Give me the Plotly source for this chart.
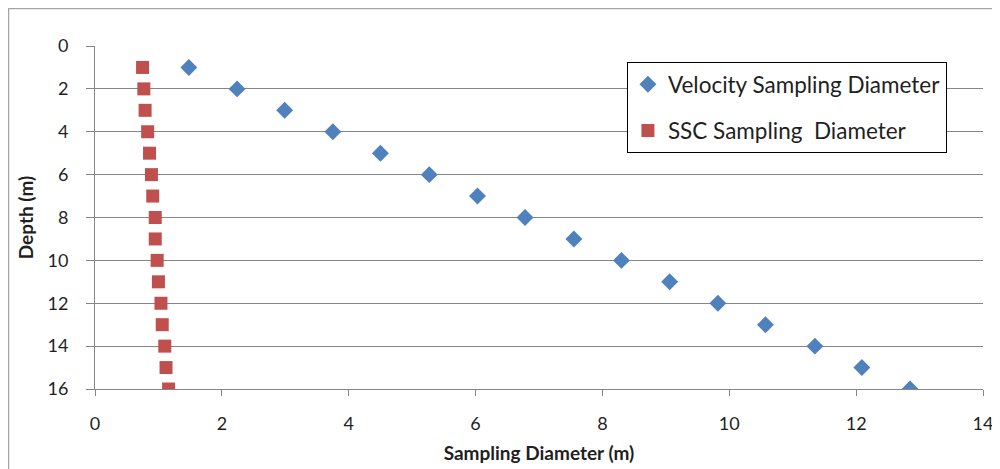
import plotly.graph_objects as go

# depth of each sample (m)
depth = [1, 2, 3, 4, 5, 6, 7, 8, 9, 10, 11, 12, 13, 14, 15, 16]

# sampling diameters (m)
velocity_diam = [1.48, 2.24, 2.99, 3.75, 4.50, 5.27, 6.03, 6.78,
                 7.55, 8.30, 9.06, 9.82, 10.57, 11.35, 12.09, 12.85]
ssc_diam = [0.75, 0.77, 0.79, 0.83, 0.86, 0.89, 0.91, 0.95,
            0.95, 0.98, 1.00, 1.04, 1.06, 1.10, 1.12, 1.16]

x_ticks = [0, 2, 4, 6, 8, 10, 12, 14]
y_ticks = [0, 2, 4, 6, 8, 10, 12, 14, 16]

font = "Lato, Open Sans, sans-serif"

fig = go.Figure()

fig.add_trace(go.Scatter(
    x=velocity_diam, y=depth,
    mode='markers',
    name='Velocity Sampling Diameter',
    legendgroup='v',
    marker=dict(symbol='diamond', size=13, color='#4F81BD'),
))

fig.add_trace(go.Scatter(
    x=ssc_diam, y=depth,
    mode='markers',
    name='SSC Sampling  Diameter',
    legendgroup='s',
    marker=dict(symbol='square', size=13, color='#C0504D'),
))

# outer chart border - only left and top edges fall inside the picture
fig.add_shape(
    type='rect', xref='paper', yref='paper',
    x0=-0.0974, x1=1.08, y0=-0.4, y1=1.1093,
    line=dict(color='#A6A6A6', width=1.5),
    layer='below',
)

fig.update_layout(
    width=992,
    height=461,
    margin=dict(l=87, r=17, t=38, b=80, autoexpand=False),
    paper_bgcolor='white',
    plot_bgcolor='white',
    font=dict(family=font, size=18, color='#1F1F1F'),
    showlegend=True,
    legend=dict(
        x=0.599, y=0.953,
        xanchor='left', yanchor='top',
        bgcolor='white',
        bordercolor='black',
        borderwidth=1,
        font=dict(size=22.5),
        tracegroupgap=14,
        itemwidth=30,
    ),
    xaxis=dict(
        range=[0, 14],
        tickvals=x_ticks,
        showgrid=False,
        zeroline=False,
        showline=True,
        linecolor='#868686',
        linewidth=1,
        ticks='outside',
        ticklen=6,
        tickcolor='#868686',
        ticklabelstandoff=12,
        automargin=False,
        title=dict(text='<b>Sampling Diameter (m)</b>', font=dict(size=19), standoff=14),
    ),
    yaxis=dict(
        range=[16, 0],
        tickvals=y_ticks,
        showgrid=True,
        gridcolor='#868686',
        gridwidth=1,
        zeroline=False,
        showline=True,
        linecolor='#868686',
        linewidth=1,
        ticks='outside',
        ticklen=8,
        tickcolor='#868686',
        ticklabelstandoff=14,
        automargin=False,
        title=dict(text='<b>Depth (m)</b>', font=dict(size=19), standoff=8),
    ),
)

fig.write_html("out.html")
